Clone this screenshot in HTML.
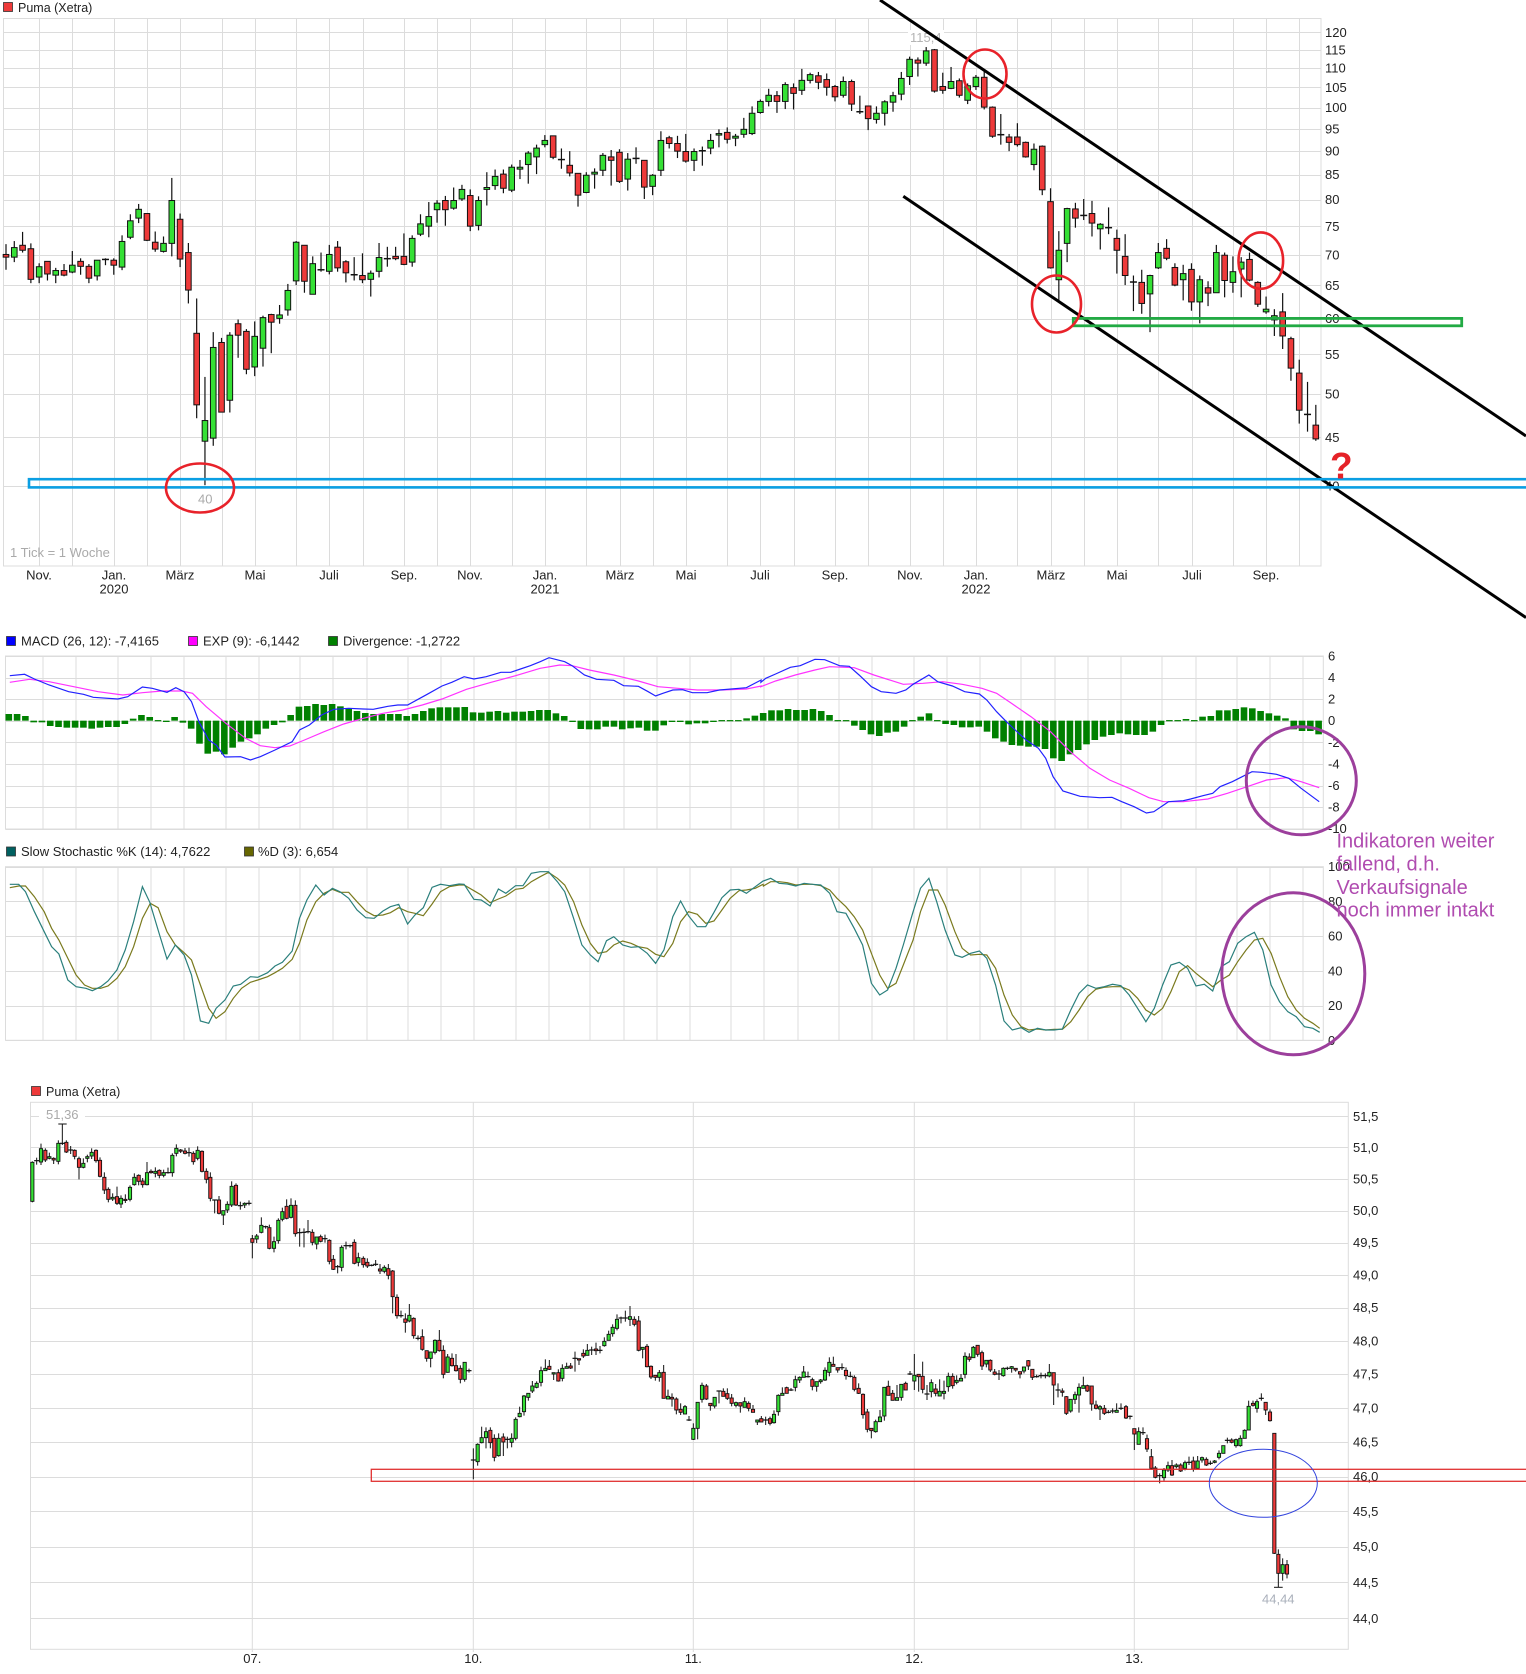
<!DOCTYPE html>
<html><head><meta charset="utf-8">
<style>
html,body{margin:0;padding:0;background:#fff;}
svg{display:block;font-family:"Liberation Sans",Arial,sans-serif;}
</style></head><body>
<svg id="s" xmlns="http://www.w3.org/2000/svg" width="1526" height="1674" viewBox="0 0 1526 1674">
<rect x="0" y="0" width="1526" height="1674" fill="#fff"/>
<g id="tgrid" stroke="#dcdcdc" stroke-width="1" fill="none"></g>
<g id="mgrid" stroke="#dcdcdc" stroke-width="1" fill="none"></g>
<g id="sgrid" stroke="#dcdcdc" stroke-width="1" fill="none"></g>
<g id="bgrid" stroke="#dcdcdc" stroke-width="1" fill="none"></g>

<!-- top chart texts -->
<rect x="3.5" y="2.5" width="9" height="9" fill="#ee3a3a" stroke="#333" stroke-width="0.8"/>
<text x="18" y="12" font-size="12.5" fill="#222">Puma (Xetra)</text>
<g font-size="13" fill="#222">
<text x="1325" y="36.8">120</text><text x="1325" y="54.3">115</text><text x="1325" y="72.7">110</text>
<text x="1325" y="91.9">105</text><text x="1325" y="112.1">100</text><text x="1325" y="133.3">95</text>
<text x="1325" y="155.6">90</text><text x="1325" y="179.2">85</text><text x="1325" y="204.2">80</text>
<text x="1325" y="230.9">75</text><text x="1325" y="259.4">70</text><text x="1325" y="290">65</text>
<text x="1325" y="323">60</text><text x="1325" y="359">55</text><text x="1325" y="398.3">50</text>
<text x="1325" y="441.8">45</text><text x="1325" y="490.5">40</text>
</g>
<g font-size="13" fill="#222" text-anchor="middle">
<text x="39" y="579.5">Nov.</text>
<text x="114" y="579.5">Jan.</text><text x="114" y="593.5">2020</text>
<text x="180" y="579.5">März</text><text x="255" y="579.5">Mai</text><text x="329" y="579.5">Juli</text>
<text x="404" y="579.5">Sep.</text><text x="470" y="579.5">Nov.</text>
<text x="545" y="579.5">Jan.</text><text x="545" y="593.5">2021</text>
<text x="620" y="579.5">März</text><text x="686" y="579.5">Mai</text><text x="760" y="579.5">Juli</text>
<text x="835" y="579.5">Sep.</text><text x="910" y="579.5">Nov.</text>
<text x="976" y="579.5">Jan.</text><text x="976" y="593.5">2022</text>
<text x="1051" y="579.5">März</text><text x="1117" y="579.5">Mai</text><text x="1192" y="579.5">Juli</text>
<text x="1266" y="579.5">Sep.</text>
</g>
<rect x="908" y="30" width="36" height="15" fill="#fff"/>
<text x="910" y="42" font-size="13" fill="#b4b4b4">115,4</text>
<text x="198" y="503.5" font-size="13" fill="#aaa">40</text>
<text x="10" y="557" font-size="13" fill="#aaa">1 Tick = 1 Woche</text>

<g id="tcand"></g>

<!-- MACD texts -->
<rect x="6.5" y="636.5" width="9" height="9" fill="#0000ff" stroke="#333" stroke-width="0.8"/>
<text x="21" y="645.5" font-size="13" fill="#222">MACD (26, 12): -7,4165</text>
<rect x="188.5" y="636.5" width="9" height="9" fill="#ff00ff" stroke="#333" stroke-width="0.8"/>
<text x="203" y="645.5" font-size="13" fill="#222">EXP (9): -6,1442</text>
<rect x="328.5" y="636.5" width="9" height="9" fill="#008000" stroke="#333" stroke-width="0.8"/>
<text x="343" y="645.5" font-size="13" fill="#222">Divergence: -1,2722</text>
<g font-size="13" fill="#222">
<text x="1328" y="660.4">6</text><text x="1328" y="682">4</text><text x="1328" y="703.6">2</text>
<text x="1328" y="725.2">0</text><text x="1328" y="746.8">-2</text><text x="1328" y="768.4">-4</text>
<text x="1328" y="790">-6</text><text x="1328" y="811.6">-8</text><text x="1328" y="833.2">-10</text>
</g>
<g id="macd"></g>

<!-- Stoch texts -->
<rect x="6.5" y="847" width="9" height="9" fill="#006060" stroke="#333" stroke-width="0.8"/>
<text x="21" y="856" font-size="13" fill="#222">Slow Stochastic %K (14): 4,7622</text>
<rect x="244.5" y="847" width="9" height="9" fill="#666600" stroke="#333" stroke-width="0.8"/>
<text x="258" y="856" font-size="13" fill="#222">%D (3): 6,654</text>
<g font-size="13" fill="#222">
<text x="1328" y="871.2">100</text><text x="1328" y="905.9">80</text><text x="1328" y="940.6">60</text>
<text x="1328" y="975.4">40</text><text x="1328" y="1010.1">20</text><text x="1328" y="1044.8">0</text>
</g>
<g id="stoch"></g>

<!-- bottom chart texts -->
<rect x="31.5" y="1086.5" width="9" height="9" fill="#ee3a3a" stroke="#333" stroke-width="0.8"/>
<text x="46" y="1096" font-size="12.5" fill="#222">Puma (Xetra)</text>
<g font-size="13" fill="#222">
<text x="1353" y="1120.8">51,5</text><text x="1353" y="1151.9">51,0</text><text x="1353" y="1183.3">50,5</text>
<text x="1353" y="1215.1">50,0</text><text x="1353" y="1247.1">49,5</text><text x="1353" y="1279.5">49,0</text>
<text x="1353" y="1312.2">48,5</text><text x="1353" y="1345.3">48,0</text><text x="1353" y="1378.7">47,5</text>
<text x="1353" y="1412.4">47,0</text><text x="1353" y="1446.6">46,5</text><text x="1353" y="1481">46,0</text>
<text x="1353" y="1515.9">45,5</text><text x="1353" y="1551.2">45,0</text><text x="1353" y="1586.8">44,5</text>
<text x="1353" y="1622.8">44,0</text>
</g>
<g font-size="13" fill="#222" text-anchor="middle">
<text x="252.3" y="1663">07.</text><text x="473.3" y="1663">10.</text><text x="693.3" y="1663">11.</text>
<text x="914.3" y="1663">12.</text><text x="1134.3" y="1663">13.</text>
</g>
<rect x="39" y="1107" width="46" height="14" fill="#fff"/>
<text x="46" y="1118.8" font-size="13" fill="#aaa">51,36</text>
<text x="1262" y="1603.5" font-size="13" fill="#aab0bb">44,44</text>
<g id="bcand"></g>

<!-- annotations -->
<g fill="none">
<line x1="880" y1="0" x2="1526" y2="436" stroke="#000" stroke-width="3"/>
<line x1="903.3" y1="196.3" x2="1526" y2="617.6" stroke="#000" stroke-width="3"/>
<rect x="29" y="479.2" width="1510" height="8.2" stroke="#0b9fe3" stroke-width="2.6"/>
<rect x="1073.3" y="318.4" width="388.4" height="7.4" stroke="#22aa44" stroke-width="2.8"/>
<ellipse cx="200" cy="488" rx="34" ry="24.5" stroke="#e8222a" stroke-width="2.6"/>
<ellipse cx="985" cy="74" rx="21.5" ry="24.5" stroke="#e8222a" stroke-width="2.6"/>
<ellipse cx="1056.5" cy="304" rx="24.5" ry="28.5" stroke="#e8222a" stroke-width="2.6"/>
<ellipse cx="1260.8" cy="260.6" rx="22.3" ry="28.2" stroke="#e8222a" stroke-width="2.6"/>
<ellipse cx="1301.3" cy="780.8" rx="55" ry="54" stroke="#9c3f9c" stroke-width="3"/>
<ellipse cx="1293.3" cy="973.8" rx="71.5" ry="81" stroke="#9c3f9c" stroke-width="3"/>
<rect x="371.3" y="1469.3" width="1170" height="12" stroke="#e03030" stroke-width="1.3"/>
<ellipse cx="1263.3" cy="1483.3" rx="54" ry="34" stroke="#3344dd" stroke-width="1"/>
</g>
<text x="1330" y="478.5" font-size="37" font-weight="bold" fill="#e52228">?</text>
<g font-size="20" fill="#b04cb0">
<text x="1336.5" y="847.5">Indikatoren weiter</text>
<text x="1336.5" y="870.5">fallend, d.h.</text>
<text x="1336.5" y="894">Verkaufsignale</text>
<text x="1336.5" y="916.5">noch immer intakt</text>
</g>
</svg>
<script>
(function(){
var NS='http://www.w3.org/2000/svg';
function E(t,a,p){var e=document.createElementNS(NS,t);for(var k in a)e.setAttribute(k,a[k]);p.appendChild(e);return e;}
function G(id){return document.getElementById(id);}
var GREEN='#35e035',RED='#ee3a3a';
/* ---------- grids ---------- */
var vx=[39,72,114,147,180,222,255,296,329,363,404,437,470,512,545,586,620,653,686,727,760,794,835,868,910,943,976,1017,1051,1084,1117,1158,1192,1233,1266,1299];
var tg=G('tgrid');
vx.forEach(function(x){E('line',{x1:x+.5,y1:18.5,x2:x+.5,y2:566},tg);});
for(var v=40;v<=120;v+=5){var y=Math.round(486-413*Math.log(v/40))+.5;E('line',{x1:3.5,y1:y,x2:1321,y2:y},tg);}
E('rect',{x:3.5,y:18.5,width:1317.5,height:547.5},tg);
var mg=G('mgrid');
vx.forEach(function(x){E('line',{x1:x+4,y1:656,x2:x+4,y2:829},mg);});
for(var m=6;m>=-10;m-=2){var y2=Math.round(720.7-10.8*m)+.5;E('line',{x1:5.5,y1:y2,x2:1323,y2:y2},mg);}
E('rect',{x:5.5,y:656,width:1317.8,height:173},mg);
var sg=G('sgrid');
vx.forEach(function(x){E('line',{x1:x+4,y1:866.7,x2:x+4,y2:1040.3},sg);});
for(var s=0;s<=100;s+=20){var y3=Math.round(1040.3-1.736*s)+.5;E('line',{x1:5.5,y1:y3,x2:1323,y2:y3},sg);}
E('rect',{x:5.5,y:866.7,width:1317.8,height:173.6},sg);
var bg=G('bgrid');
[252.3,473.3,693.3,914.3,1134.3].forEach(function(x){E('line',{x1:x,y1:1102.3,x2:x,y2:1652},bg);});
for(var b=44;b<=51.51;b+=0.5){var y4=Math.round(1582.3+3190*Math.log(44.5/b))+.5;E('line',{x1:30.5,y1:y4,x2:1348.3,y2:y4},bg);}
E('rect',{x:30.5,y:1102.3,width:1317.8,height:547},bg);

/* ---------- top candles ---------- */
var T=[[665,672,638,705,'r'],[647,672,630,685,'g'],[641,654,606,660,'r'],[650,730,636,740,'r'],[697,724,688,740,'g'],[683,716,683,733,'r'],[707,719,700,740,'g'],[707,719,690,722,'r'],[693,711,656,714,'g'],[683,696,675,718,'r'],
[696,727,690,740,'r'],[680,721,680,733,'g'],[678,678,675,693,'d'],[680,693,675,718,'r'],[631,698,615,706,'g'],[577,620,560,625,'g'],[547,570,533,583,'g'],[558,628,558,630,'r'],[633,651,605,658,'r'],[636,657,618,660,'g'],
[524,636,465,670,'g'],[573,677,558,698,'r'],[660,758,635,793,'r'],[871,1058,780,1093,'r'],[1099,1153,985,1268,'g'],[908,1145,868,1165,'g'],[895,1077,883,1077,'r'],[876,1046,868,1078,'g'],[846,876,835,935,'r'],[866,965,860,978,'r'],
[879,959,840,983,'g'],[830,910,825,958,'g'],[822,842,820,923,'r'],[823,832,797,846,'g'],[759,810,742,825,'g'],[633,734,630,745,'g'],[641,735,641,765,'r'],[689,769,670,769,'g'],[705,705,660,710,'d'],[665,709,640,717,'g'],
[646,700,630,710,'r'],[684,713,680,738,'r'],[718,718,672,733,'d'],[720,731,662,740,'r'],[714,730,707,775,'g'],[673,709,635,725,'g'],[676,676,645,697,'d'],[670,676,645,680,'r'],[670,691,610,693,'r'],[623,685,615,697,'g'],
[585,612,560,617,'g'],[566,591,528,620,'g'],[531,548,523,582,'g'],[524,548,512,590,'r'],[524,544,490,548,'g'],[495,520,483,525,'g'],[511,591,495,604,'r'],[524,589,513,602,'g'],[490,495,450,537,'g'],[461,485,443,496,'g'],
[455,492,443,505,'r'],[437,497,430,502,'g'],[437,442,418,468,'g'],[400,430,395,480,'g'],[387,410,378,455,'g'],[367,378,353,385,'g'],[355,411,355,416,'r'],[417,417,388,441,'d'],[432,452,395,461,'r'],[453,510,453,540,'r'],
[458,503,450,505,'g'],[450,455,440,493,'g'],[406,445,400,460,'g'],[410,419,392,485,'r'],[398,474,390,478,'r'],[416,468,400,498,'g'],[414,414,385,428,'d'],[419,489,419,520,'r'],[458,487,455,510,'g'],[367,445,343,460,'g'],
[360,375,355,388,'r'],[375,395,355,413,'r'],[396,421,350,425,'r'],[396,419,388,447,'g'],[394,394,383,433,'d'],[367,387,350,403,'g'],[349,353,338,385,'g'],[346,364,333,375,'r'],[356,361,350,382,'g'],[338,351,308,360,'g'],
[296,349,278,353,'g'],[265,294,260,297,'g'],[249,265,232,278,'g'],[250,265,238,295,'r'],[221,265,215,285,'g'],[229,244,218,286,'r'],[210,236,180,248,'g'],[195,210,190,218,'g'],[198,215,188,233,'r'],[208,228,192,250,'r'],
[226,253,222,265,'r'],[213,249,200,255,'g'],[213,272,208,290,'r'],[292,292,250,298,'d'],[277,310,277,340,'r'],[296,312,278,323,'g'],[266,296,262,328,'g'],[250,267,240,292,'g'],[205,246,188,262,'g'],[155,200,148,222,'g'],
[157,165,150,200,'r'],[133,165,123,172,'g'],[130,238,128,242,'r'],[226,236,190,245,'r'],[213,231,175,233,'g'],[211,249,205,255,'r'],[224,262,218,272,'g'],[202,226,196,235,'g'],[202,280,185,286,'r'],[280,356,278,360,'r'],
[352,352,298,378,'d'],[358,372,350,395,'r'],[358,378,322,383,'r'],[372,410,370,412,'r'],[390,430,375,445,'g'],[382,496,380,510,'r'],[527,700,492,702,'r'],[654,731,604,785,'g'],[545,636,543,685,'g'],[546,570,530,595,'r'],
[563,563,520,575,'d'],[558,583,525,618,'r'],[586,598,583,652,'g'],[595,595,542,612,'d'],[623,654,600,715,'r'],[670,720,612,745,'r'],[737,737,720,813,'d'],[738,793,705,820,'r'],[720,768,718,868,'g'],[660,700,635,703,'g'],
[649,675,625,680,'r'],[699,745,688,748,'r'],[715,731,692,785,'g'],[704,789,688,812,'r'],[731,789,720,845,'g'],[752,766,735,800,'r'],[660,765,640,765,'g'],[667,733,660,777,'r'],[710,738,670,765,'g'],[685,703,672,777,'g'],
[678,732,660,735,'r'],[738,795,735,802,'r'],[808,815,775,820,'g'],[825,836,808,878,'g'],[815,878,766,912,'r'],[885,962,880,995,'r'],[975,1072,940,1107,'r'],[1083,1083,998,1128,'d'],[1111,1147,1058,1152,'r']];
var tc=G('tcand'),K=2.6133;
T.forEach(function(c,i){
  var x=6+i*8.29,bt=c[0]/K,bb=c[1]/K,wt=c[2]/K,wb=c[3]/K;
  E('line',{x1:x,y1:wt,x2:x,y2:wb,stroke:'#111','stroke-width':1.2},tc);
  if(c[4]=='d'){E('line',{x1:x-3.5,y1:bt,x2:x+3.5,y2:bt,stroke:'#111','stroke-width':1.5},tc);}
  else{E('rect',{x:x-2.8,y:bt,width:5.6,height:Math.max(bb-bt,1.5),fill:c[4]=='g'?GREEN:RED,stroke:'#111','stroke-width':1},tc);}
});

/* ---------- MACD ---------- */
var SX=2.0364;
function pts(a,x0){var r=[];for(var i=0;i<a.length;i+=2)r.push((x0+a[i]/SX).toFixed(1)+','+(625+a[i+1]/3).toFixed(1));return r;}
var HA=[267,267,273,292,292,303,306,308,308,308,311,308,306,306,297,281,270,276,287,291,276,293,311,356,386,380,388,368,350,340,328,311,300,292,270,245,243,237,240,237,244,250,258,264,267,267,267,267,273,267,258,250,247,247,247,246,262,263,260,258,263,260,260,258,255,255,265,273,291,312,313,313,305,305,313,310,308,317,317,301,291,291,298,295,295,291,284,284,285,280,272,264];
var HB=[256,256,252,255,255,252,258,270,285,287,302,315,328,333,323,320,305,285,275,265,284,297,300,307,307,305,320,340,350,360,362,365,365,372,400,408,388,375,358,345,335,330,325,328,330,330,320,300,287,287,282,285,275,273,256,256,252,247,250,258,265,272,280,313,318,318,328];
var H=HA.concat(HB),mc=G('macd'),Z=720.67;
H.forEach(function(h,i){
  var x=8.8+i*8.29,y=625+h/3;
  var t=Math.min(y,Z),bt=Math.max(y,Z);
  if(bt-t<1.2){t=Z-0.6;bt=Z+0.6;}
  E('rect',{x:x-3.3,y:t,width:6.6,height:bt-t,fill:'#008000'},mc);
});
var blueA=[20,152,50,148,70,162,100,180,140,200,170,208,190,217,240,222,260,215,290,186,310,190,340,202,358,188,375,200,390,230,405,290,425,345,440,360,458,396,490,395,510,405,530,395,560,375,595,350,610,315,630,300,655,270,680,253,710,250,740,252,760,253,790,244,810,240,830,240,870,208,900,183,920,172,945,155,965,162,990,155,1020,142,1040,142,1060,132,1080,122,1100,110,1118,98,1150,110,1165,122,1190,150,1215,163,1250,166,1270,182,1300,184,1320,200,1335,213,1350,205,1370,195,1390,194,1410,203,1440,203,1465,195,1520,188,1550,165];
var blueB=[10,172,20,160,40,147,70,127,90,122,120,103,140,104,170,122,190,124,210,150,235,185,255,200,285,205,305,195,320,178,352,150,370,170,400,183,425,200,455,207,470,225,490,260,510,290,530,318,550,345,575,370,590,400,605,455,625,498,660,514,700,518,725,517,745,530,770,545,795,564,810,560,840,530,870,527,885,522,910,512,930,505,945,485,970,470,990,455,1010,440,1030,442,1060,448,1085,460,1110,490,1147,530];
var magA=[20,172,60,163,100,170,150,185,200,200,250,210,290,203,330,198,370,198,392,205,420,245,460,295,500,340,530,362,560,368,590,363,620,345,660,320,700,297,740,280,780,265,820,255,860,240,900,222,950,193,1000,172,1050,152,1100,130,1140,120,1165,122,1200,135,1250,150,1300,168,1340,185,1380,190,1420,195,1470,195,1520,192,1550,183];
var magB=[10,185,40,168,80,150,120,135,150,125,200,128,240,150,300,178,340,175,380,170,420,178,460,190,490,205,520,235,560,275,600,320,640,380,680,430,720,465,760,490,800,518,830,530,870,530,920,522,960,505,1000,485,1040,465,1080,458,1110,470,1147,488];
E('polyline',{points:pts(magA,0).concat(pts(magB,756)).join(' '),fill:'none',stroke:'#ff33ff','stroke-width':1.2},mc);
E('polyline',{points:pts(blueA,0).concat(pts(blueB,756)).join(' '),fill:'none',stroke:'#2222ff','stroke-width':1.2},mc);

/* ---------- Stochastic ---------- */
var KA=[20,778,38,778,52,800,70,860,90,920,105,965,120,987,138,1065,155,1085,175,1090,188,1097,205,1085,220,1068,238,1035,255,975,272,890,290,785,305,832,325,930,340,1002,357,960,375,990,390,1050,408,1188,425,1195,440,1150,458,1125,475,1083,490,1078,510,1055,525,1057,545,1043,560,1023,575,1012,595,978,610,880,625,825,643,780,660,810,677,790,692,800,710,820,727,855,745,878,762,880,780,858,795,845,812,838,830,897,845,870,862,848,880,787,897,778,915,782,935,777,945,778,965,823,980,825,998,843,1015,792,1030,805,1050,782,1065,782,1082,745,1100,740,1117,740,1135,770,1150,800,1168,880,1185,960,1202,990,1218,1010,1235,947,1250,935,1268,960,1285,967,1300,965,1318,985,1335,1015,1352,975,1370,875,1386,828,1402,872,1420,905,1437,905,1454,862,1470,818,1487,795,1505,793,1520,805,1538,785,1554,768];
var KB=[15,768,30,760,47,775,64,777,81,783,98,775,115,778,132,780,150,805,165,860,183,865,200,910,217,960,235,1075,252,1110,268,1095,285,1030,300,960,320,860,335,790,352,760,368,830,385,915,405,990,420,997,437,985,455,978,470,1000,488,1080,505,1188,522,1215,540,1208,556,1222,573,1210,590,1215,607,1215,624,1212,641,1155,658,1105,675,1080,692,1090,709,1085,726,1078,743,1082,760,1110,777,1150,794,1190,811,1150,828,1080,845,1020,862,1012,879,1030,896,1083,913,1078,930,1098,947,1025,964,1010,981,955,998,935,1015,922,1032,975,1049,1080,1066,1130,1083,1160,1100,1175,1117,1205,1134,1210,1148,1222];
var DA=[20,788,38,783,52,783,70,815,90,860,105,910,120,945,138,1000,155,1050,172,1080,188,1090,205,1090,220,1083,238,1060,255,1025,272,965,290,880,306,835,322,848,340,920,357,960,375,983,390,1005,408,1080,425,1150,440,1180,458,1160,475,1120,492,1090,510,1072,525,1065,545,1055,560,1043,575,1030,595,1003,610,955,625,885,643,830,660,805,677,793,692,802,710,802,727,830,745,858,762,872,780,870,795,863,812,848,830,860,845,865,862,872,880,837,897,800,915,785,935,780,945,780,965,797,980,810,998,833,1015,822,1030,813,1050,793,1065,790,1082,770,1100,755,1117,742,1135,760,1150,780,1168,830,1185,900,1202,955,1218,985,1235,980,1250,960,1268,948,1285,955,1300,965,1318,970,1335,988,1352,995,1370,955,1386,890,1402,860,1420,868,1437,895,1454,888,1470,855,1487,820,1505,797,1520,795,1538,790,1554,778];
var DB=[15,783,30,770,47,770,64,773,81,780,98,778,115,778,132,782,150,795,165,820,183,845,200,875,217,915,235,985,252,1050,268,1090,285,1075,300,1020,320,945,335,860,352,795,370,795,385,840,405,920,420,970,437,990,455,988,470,990,488,1030,505,1110,522,1170,540,1205,556,1215,573,1212,590,1215,607,1213,624,1213,641,1190,658,1155,675,1115,692,1093,709,1087,726,1085,743,1085,760,1095,777,1120,794,1155,811,1170,828,1150,845,1100,862,1040,879,1022,896,1045,913,1065,930,1085,947,1065,964,1050,981,1010,998,975,1015,945,1032,940,1049,985,1066,1055,1083,1115,1100,1155,1117,1180,1134,1195,1148,1210];
var st=G('stoch');
E('polyline',{points:pts(DA,0).concat(pts(DB,756)).join(' '),fill:'none',stroke:'#7a7a1e','stroke-width':1.2},st);
E('polyline',{points:pts(KA,0).concat(pts(KB,756)).join(' '),fill:'none',stroke:'#2a7f7c','stroke-width':1.2},st);

/* ---------- bottom candles ---------- */
var B0=[[97,217,334,'g'],[110,212,212,'d'],[123,176,216,'g'],[136,181,210,'r'],[148,200,205,'g'],[161,205,210,'r'],[175,160,214,'g'],[187,160,160,'d',102,165],[199,157,186,'r'],[212,180,180,'d'],[224,181,199,'r'],[237,206,232,'r',200,268],[250,220,232,'g'],[262,200,205,'g'],[275,187,198,'g'],[288,181,212,'r'],[300,211,259,'r'],[313,262,300,'r'],[325,298,328,'r'],[338,322,327,'g'],[351,320,340,'r',290,345],[363,325,342,'g'],[376,328,330,'r'],[390,292,328,'g'],[403,262,284,'g'],[416,256,274,'r'],[428,273,284,'r'],[441,248,284,'g',216,286],[453,244,248,'r'],[466,244,250,'g'],[478,241,256,'r'],[491,248,256,'g'],[504,248,248,'d'],[517,196,248,'g'],[529,175,190,'g'],[542,180,183,'r'],[555,183,190,'r'],[567,188,188,'d'],[580,190,215,'r'],[593,181,205,'g'],[606,184,244,'r'],[619,244,268,'r'],[631,262,325,'r'],[644,330,330,'d',330,370],[657,330,370,'r'],[670,362,375,'g',362,405],[682,343,360,'g'],[695,289,345,'g'],[708,286,345,'r'],[721,347,347,'d'],[734,340,345,'g'],[747,340,340,'d'],
[757,446,457,'r',435,505],[770,438,447,'g'],[784,406,427,'g',382,430],[797,410,410,'d'],[808,413,475,'r'],[822,455,475,'g'],[835,391,452,'g'],[847,365,388,'g'],[860,349,385,'r',328,388],[873,346,382,'g',325,385],[886,346,431,'r'],[899,428,428,'d',415,470],[912,427,427,'d',415,472],[924,425,425,'d',390,430],[937,427,457,'r'],[950,441,462,'g',441,478],[962,440,454,'r'],[975,446,446,'d'],[988,451,514,'r'],[1000,508,538,'r',495,540],[1013,530,530,'d',525,550],[1025,472,532,'g'],[1038,467,467,'d',455,478],[1050,467,467,'d'],[1063,457,520,'r'],[1075,503,517,'g'],[1090,505,524,'r'],[1102,517,528,'r'],[1115,526,526,'d'],[1127,523,523,'d',510,528],[1140,537,543,'r'],[1153,532,544,'g'],[1165,536,556,'r',522,568],[1178,543,620,'r',540,670],[1191,622,677,'r'],[1203,677,677,'d'],[1216,687,697,'r',670,728],[1228,676,693,'g',642,697],[1241,685,737,'r'],[1254,745,745,'d'],[1267,740,778,'r',718,782],[1280,782,805,'r',782,815],[1292,786,805,'g',786,832],[1305,751,787,'g'],[1318,751,782,'r',720,785],[1330,781,853,'r'],[1343,801,847,'g',792,848],[1356,805,827,'r',790,830],[1368,827,842,'r',792,845],[1381,835,868,'r'],[1394,817,868,'g',817,875],[1407,842,842,'d'],
[1420,1110,1110,'d',1075,1168],[1433,1063,1115,'g'],[1445,1043,1058,'g',1010,1060],[1458,1025,1043,'g',1012,1075],[1471,1021,1058,'r',1012,1075],[1483,1045,1102,'r'],[1496,1045,1097,'g',1030,1100]];
var B1=[[10,1041,1056,'r',1030,1098],[22,1048,1048,'d',1040,1075],[35,1045,1057,'g',1030,1072],[47,988,1045,'g'],[59,970,980,'g',950,982],[72,918,965,'g'],[85,910,922,'g',910,932],[97,888,903,'g'],[110,880,892,'g'],[123,842,877,'g'],[136,835,842,'g',808,842],[148,829,838,'r',810,840],[161,848,852,'g',848,870],[175,848,873,'r',838,875],[187,835,865,'g'],[200,830,835,'g',818,835],[212,828,834,'r'],[225,805,805,'d',785,845],[237,806,810,'r',806,825],[250,790,798,'r'],[262,781,796,'g',762,796],[275,780,780,'d',770,795],[288,777,782,'r',758,795],[300,781,781,'d',768,790],[313,754,767,'g'],[326,733,751,'g',722,751],[338,712,731,'g'],[351,688,715,'g'],[363,684,684,'d',680,700],[376,684,684,'d',662,695],[390,680,688,'g',648,708],[403,688,703,'r'],[416,693,781,'r'],[428,772,778,'g',772,805],[441,769,830,'r',762,832],[453,829,861,'r'],[466,856,862,'r',856,872],[478,848,862,'g',840,875],[491,847,925,'r',825,925],[504,919,927,'g',899,927],[516,922,927,'r',910,950],[529,927,960,'r',922,973],[542,958,967,'r',940,975],[555,950,972,'g',945,972],[567,990,990,'d'],[580,1015,1048,'g',1000,1050],[593,937,1015,'g',937,1048],[606,886,928,'g',878,938],[619,888,927,'r'],[631,940,947,'r',940,962],[644,922,948,'g',922,955],[657,903,903,'d',903,940],[670,904,919,'r',895,919],[682,911,925,'r',895,930],[695,924,940,'r'],[708,938,946,'g'],[721,938,948,'r',938,968],[734,935,952,'g',922,952],[746,940,955,'r'],[759,958,967,'r',945,967],[772,990,996,'g',990,1005],[784,986,996,'r',978,996],[797,990,990,'d',980,1005],[810,986,1000,'r'],[822,973,998,'g'],[835,916,965,'g'],[847,910,916,'g',892,916],[860,893,910,'r',890,910],[873,900,900,'d'],[886,869,892,'g'],[899,862,870,'g'],[911,846,862,'g',828,862],[924,860,860,'d'],[937,869,889,'r'],[950,875,889,'g',875,905],[962,870,875,'g'],[975,841,870,'g'],[988,817,847,'g'],[1000,823,829,'r',800,829],[1013,833,840,'r',833,848],[1026,833,833,'d',820,840],[1038,841,857,'r'],[1051,859,859,'d',845,862],[1063,862,898,'r'],[1076,895,910,'r',880,912],[1089,913,974,'r'],[1102,966,1018,'r'],[1114,1015,1022,'r',1015,1045],[1127,995,1025,'g'],[1140,981,995,'g',960,995],[1153,892,978,'g',892,992],[1165,889,916,'r',872,916],[1178,910,931,'r',900,931],[1191,923,931,'g',885,931],[1204,883,922,'g',883,932],[1217,880,900,'r',875,900],[1230,852,852,'d'],[1243,856,873,'g',792,900],[1256,853,860,'r',853,905],[1268,859,898,'r',815,910],[1281,912,912,'d',885,930],[1294,878,905,'g',868,922],[1307,897,910,'r'],[1319,904,918,'g',868,918],[1332,904,910,'g',872,928],[1345,859,890,'g',848,905],[1358,859,887,'r'],[1370,871,877,'g'],[1383,865,873,'g',852,873],[1395,799,853,'g'],[1408,801,808,'r',790,815],[1420,772,803,'g',768,803],[1433,766,793,'r',766,800],[1446,788,828,'r'],[1459,811,822,'g',811,832],[1471,811,840,'r'],[1484,846,853,'r'],[1497,852,852,'d',840,870]];
var B2=[[10,835,857,'g'],[22,835,835,'d',830,840],[35,830,835,'g',828,848],[47,835,840,'r',835,845],[60,845,852,'r',845,865],[72,831,843,'g',831,850],[85,812,828,'r',810,840],[97,838,862,'r',838,870],[110,860,860,'d'],[123,857,857,'d',848,865],[136,857,857,'d',850,865],[148,847,858,'g',822,862],[161,848,885,'r',848,945],[174,900,900,'d',880,922],[187,903,907,'r',895,920],[199,920,970,'r',918,975],[212,928,963,'g',928,968],[225,914,928,'g',905,942],[237,892,915,'g',880,968],[250,887,895,'g',860,895],[262,887,903,'r'],[275,888,942,'r',888,962],[288,945,955,'r',932,958],[300,950,957,'g',945,990],[313,955,970,'r',945,975],[325,967,967,'d',960,970],[338,963,963,'d',955,970],[350,961,967,'g',940,967],[363,955,955,'d',940,960],[378,950,984,'r',945,987],[390,979,979,'d'],
[403,1016,1032,'r',1016,1080],[416,1025,1063,'g',1012,1063],[429,1028,1028,'d',1012,1035],[441,1046,1077,'r'],[454,1100,1135,'r',1077,1140],[466,1134,1162,'r',1128,1165],[479,1157,1157,'d',1150,1180],[492,1140,1163,'g'],[504,1127,1140,'g'],[516,1127,1155,'r',1110,1158],[529,1125,1130,'g',1120,1135],[542,1125,1143,'r',1120,1146],[555,1118,1135,'g'],[567,1117,1117,'d',1100,1125],[580,1113,1137,'r',1100,1145],[593,1113,1135,'g',1098,1135],[606,1103,1110,'g',1100,1118],[619,1108,1125,'r'],[631,1120,1120,'d',1112,1125],[644,1113,1117,'g',1110,1120],[657,1090,1102,'g'],[670,1067,1090,'g',1067,1090],[682,1051,1051,'d',1043,1060],[695,1050,1057,'r',1045,1060],[708,1049,1067,'g'],[721,1045,1067,'g'],[734,1021,1045,'g',1018,1045],[746,949,1020,'g',932,1020],[759,940,946,'r',932,950],[771,935,955,'g',928,968],[784,925,925,'d',910,932],[797,937,960,'r',937,975],[810,966,992,'r',958,995],
[823,1030,1390,'r',1030,1392],[835,1393,1450,'r',1378,1492],[848,1424,1450,'g',1405,1472],[861,1424,1452,'r',1410,1465]];
var bcG=G('bcand');
function bc(arr,x0){
  arr.forEach(function(c,i){
    var x=x0+c[0]/3,yT=1090+c[1]/3,yB=1090+c[2]/3;
    var h1=(c.length>4)?1090+c[4]/3:yT-(1+((i*7)%5));
    var h2=(c.length>5)?1090+c[5]/3:yB+(1+((i*3)%4));
    E('line',{x1:x,y1:h1,x2:x,y2:h2,stroke:'#111','stroke-width':1},bcG);
    if(c[3]=='d'){E('line',{x1:x-2.5,y1:yT,x2:x+2.5,y2:yT,stroke:'#111','stroke-width':1.2},bcG);}
    else{E('rect',{x:x-1.6,y:yT,width:3.2,height:Math.max(yB-yT,1.2),fill:c[3]=='g'?GREEN:RED,stroke:'#111','stroke-width':0.9},bcG);}
  });
}
bc(B0,0);bc(B1,500);bc(B2,1000);
E('line',{x1:58.3,y1:1124,x2:66.7,y2:1124,stroke:'#111','stroke-width':1},bcG);
E('line',{x1:1274,y1:1587.3,x2:1282.7,y2:1587.3,stroke:'#111','stroke-width':1},bcG);
})();
</script>
</body></html>
